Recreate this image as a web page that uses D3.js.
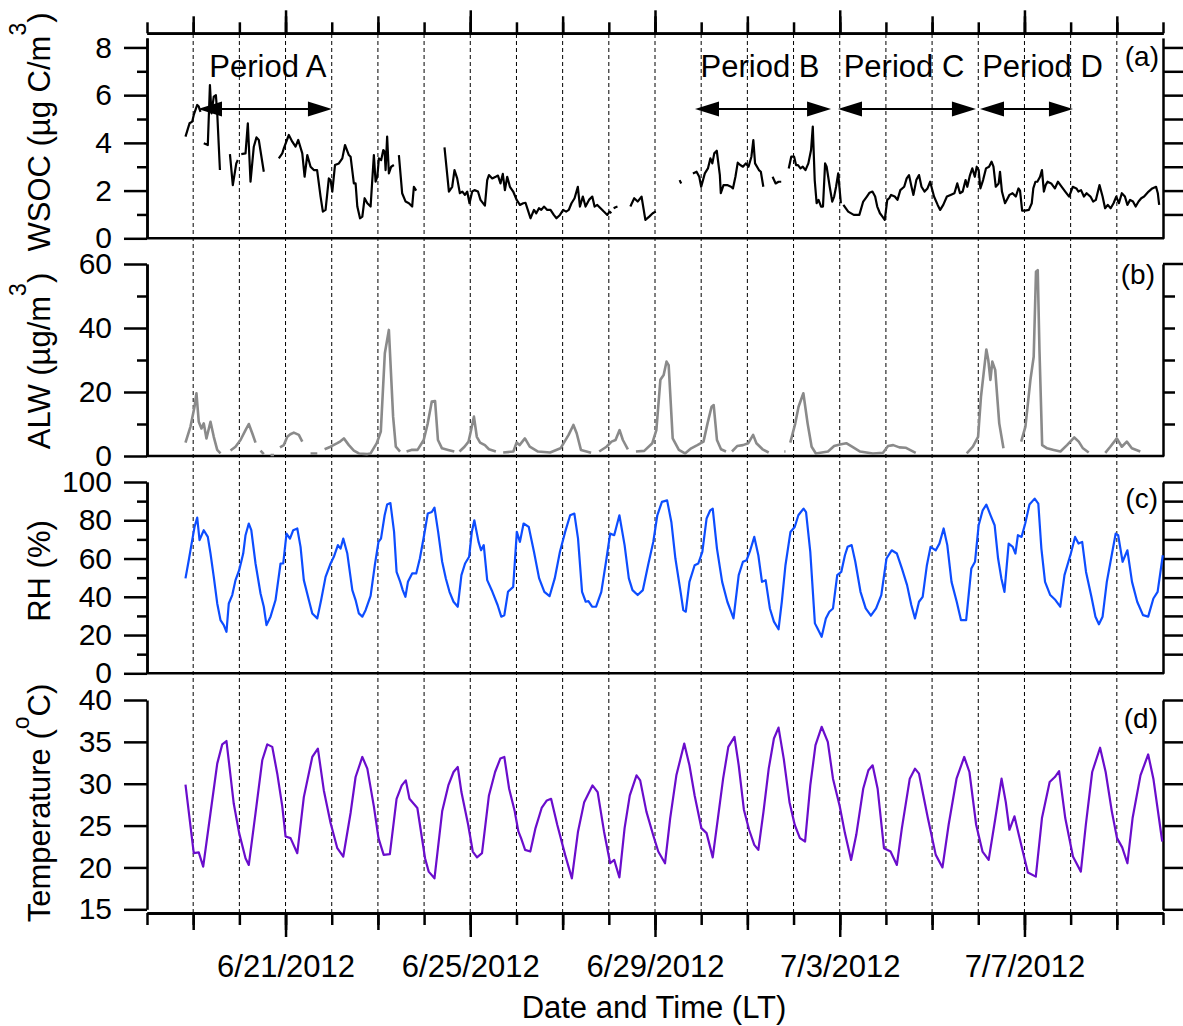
<!DOCTYPE html>
<html>
<head>
<meta charset="utf-8">
<script src="https://cdn.jsdelivr.net/npm/d3@7"></script>
<style>
  body { margin: 0; background: #fff; }
  text { font-family: "Liberation Sans", Arial, Helvetica, sans-serif; }
</style>
</head>
<body>
<svg id="chart" width="1183" height="1026"></svg>
<script>
// All times are hours after 6/18/2012 00:00 (local time). null = gap in the record.
const wsocHours = [20,22.1,23.5,24.3,26.1,26.9,27.8,null,29.5,31.6,32.7,33.5,34.7,35.8,36.5,37.9,null,
  43.1,44.6,46.4,47.2,null,49,51.2,52.4,53.8,55.5,56.9,58.1,60.7,null,
  68.5,70.3,71.1,73.7,75.5,77.2,78.6,80.7,81.9,83.3,85,86.7,88.4,90.2,91.4,92.8,94.5,95.4,96.3,97.7,99.7,101.5,102.9,104.9,105.8,107.5,108.4,109.3,110.7,111.9,113.1,114.5,116.2,
  117.9,118.8,119.7,120.5,121.7,122.8,123.5,124,124.8,125.7,126.9,128.3,null,
  130.9,132.6,134.4,136.1,137.8,138.7,139.9,null,
  154.6,156.9,158.6,159.8,161.2,162.6,163.9,165.2,166.4,167.6,169,170.2,172,173.3,175.6,176.8,177.7,179.4,181.2,182.4,183.7,184.9,186,187.2,188.6,190.3,192.1,193.8,195.5,196.7,197.9,199.3,201.1,202.3,203.7,204.9,206.3,208,209.7,211.4,212.8,214.6,216.3,217.8,219.2,220.6,222.2,223.2,223.9,225,226.5,227.9,229.7,231.4,232.6,234,235.7,237.4,239.2,240.4,241.3,null,
  242.5,243.5,244.5,null,
  251.2,253.2,255,257,259,261,262.8,264.4,null,
  276.8,277.6,null,
  283.7,285.6,287,288,289.9,291.5,292.8,293.8,294.8,296.1,297.7,298.2,299.6,301.5,303.5,304.5,305.8,307,308.3,309.7,311.2,312.6,314.1,315.1,316,318,319,320.3,null,
  325.1,326.7,328.2,329.6,null,
  333.5,334.8,336.3,337.3,338.3,339.6,340.8,342.2,343.7,345.1,346,347,348,349,350.3,351.3,352.4,353.2,354.8,356.1,357.1,358.1,359.2,360.6,null,
  361.9,364.4,367.3,370.2,372.2,374.1,375.5,377,378.4,379.5,380.9,382.2,383.4,384.7,385.7,386.7,388.6,390,391.5,393.5,394.8,396,397.3,398.3,399.8,401.2,402.5,404.1,405.6,407,409,410.9,412.2,413.8,415.7,417.6,419.6,421.1,422.5,423.9,425.4,426.3,427.7,428.9,430.2,431.2,432.2,433.1,434.5,436,437.6,438.9,439.9,441.1,442.6,443.3,444.3,445.9,447.3,448.2,449.8,451.5,452.9,453.7,454.8,456.3,458.3,459.8,460.6,461.7,462.7,464.1,465.1,466.1,467,468,469.9,471.8,473.4,474.7,477.2,479.2,481.1,483,484,485.4,486.9,488.3,490.3,491.7,493.1,495,496.6,497.9,499.3,500.8,502.3,503.7,505.1,506.6,508.2,509.5,510.9,512.4,513.8,515.3,516.7,518.2,520.5,522.4,524.4,525.3,526];
const wsocValues = [4.26,4.82,4.89,5.17,5.59,5.52,5.3,null,3.98,3.91,6.42,5.24,5.94,6.0,5.24,2.86,null,
  3.53,2.23,3.14,3.28,null,3.53,3.56,4.82,2.37,3.84,4.23,4.12,2.79,null,
  3.35,3.56,3.77,4.33,4.05,3.84,4.12,3.56,2.58,3.49,3.0,2.86,2.86,1.75,1.12,1.19,2.51,2.44,1.96,3.07,3.14,3.35,3.91,3.49,3.42,2.3,2.3,1.33,0.84,0.91,1.68,1.47,1.33,
  3.49,2.37,2.58,3.35,3.28,3.7,3.63,2.86,4.26,2.72,3.0,3.07,null,
  3.49,1.89,1.54,1.47,1.33,2.16,2.0,null,
  3.81,1.96,2.16,2.86,2.51,1.89,1.96,1.82,1.96,1.47,1.96,2.02,1.96,1.61,1.37,2.44,2.65,2.51,2.58,2.63,2.3,2.7,2.02,2.58,2.16,1.96,1.61,1.4,1.47,1.49,1.19,0.84,1.19,1.05,1.26,1.19,1.33,1.19,1.19,0.98,0.84,0.98,1.19,1.12,1.19,1.47,1.68,1.96,2.16,1.33,1.75,1.33,1.61,1.75,1.33,1.4,1.26,1.12,0.98,1.12,1.05,null,
  1.26,1.3,1.33,null,
  1.33,1.68,1.54,1.75,0.77,0.91,1.05,1.12,null,
  2.44,2.3,null,
  2.72,2.79,2.58,2.16,2.72,2.93,3.35,3.14,3.56,3.67,2.65,1.89,2.23,2.23,2.16,2.09,2.58,3.17,3.07,3.0,3.14,3.0,3.42,4.12,3.14,2.86,2.79,2.16,null,
  2.58,2.3,2.37,2.37,null,
  2.93,3.42,3.42,3.07,3.07,2.93,3.0,2.86,3.14,3.7,4.68,2.44,1.47,1.61,1.33,1.33,3.14,3.0,2.16,1.54,1.75,2.16,2.72,1.47,null,
  1.4,1.12,0.98,0.98,1.54,1.75,1.91,1.96,1.75,1.33,1.05,0.91,0.77,1.61,1.68,1.82,1.75,1.61,2.02,2.16,2.51,2.65,2.16,1.82,2.44,2.65,2.16,1.96,2.09,2.37,1.75,1.4,1.19,1.4,1.75,1.82,1.89,2.3,1.89,1.96,2.44,2.16,2.65,2.93,2.58,3.0,2.86,2.09,2.44,2.93,3.0,3.21,3.0,2.16,2.3,2.79,1.96,1.47,1.68,1.82,1.89,1.75,2.09,2.0,1.16,1.16,1.19,1.47,2.09,2.37,2.37,2.58,2.86,1.96,2.23,2.37,2.3,2.09,2.37,2.23,1.96,1.75,2.16,2.09,1.96,2.02,1.75,1.89,1.75,1.54,1.61,2.23,1.75,1.26,1.4,1.26,1.47,1.75,1.47,1.89,1.75,1.4,1.61,1.54,1.33,1.54,1.68,1.75,1.96,2.09,2.16,1.89,1.4];

const alwHours = [20,22.6,24.7,25.7,26.9,28.3,29.5,30.9,33,34.7,36.5,38.2,null,
  43.4,46,48.6,51.2,52.9,54.7,56.4,null,
  59,60.7,null,64.2,66,null,
  69.1,71.1,72.9,74.5,76.3,78.9,80.7,null,
  85,88.5,null,
  92.3,95.4,98.9,100.5,102.3,104.9,107.5,110.1,114.5,116.2,119.4,121.5,123.6,125.7,127.9,129.3,131.5,null,
  134.9,137.4,140.6,143.8,145.9,148,149.7,151.2,153.3,156.5,159.7,null,
  162.4,165,167.1,168.6,169.9,171.4,173.1,175.6,177.7,181.3,null,
  185.1,190.4,192.1,193.6,196.4,198.9,203.2,209.5,214.9,219.1,221.6,223.3,225.5,230.8,null,
  235,238.8,241.4,243.5,245.6,247.3,249.9,null,
  254.1,258.4,262.6,264.7,266.8,268.5,270,271.1,273.2,276.4,279.6,282.8,286,289.2,291.3,293.4,294.5,296.2,298.3,300.9,null,
  304,306.7,309.7,312.5,315,316.7,319.9,323.1,null,
  331.2,331.8,null,
  334.3,336.9,338.6,341.1,343.3,345.4,347.6,353.9,357.1,360.1,363.4,366.4,370.6,377.2,382.5,385.1,387.8,391,394.2,399.5,null,
  426,429.2,431.9,433.4,436.2,437.2,438.3,439.3,440.8,442.9,445.1,null,
  454.3,456.5,459.1,460.8,462,462.9,463.8,465.2,467.8,471.2,474.7,478.1,481.9,484.2,486.4,489.4,null,
  498,500.6,504,506.6,509.2,511.8,516.2];
const alwValues = [4.2,9.2,15.4,19.6,10.7,8.6,10.2,5.5,10.7,6,1.9,0.8,null,
  1.7,2.9,5,8.1,10,7.1,4.2,null,
  1.7,0.6,null,0.3,0.3,null,
  2.7,3.4,6,6.8,7.3,6.6,4.5,null,
  0.8,0.8,null,
  2.1,2.9,4,4.6,5.5,3.4,1.7,0.8,0.6,0.8,4,7.6,32.1,39.4,12.3,2.9,1.4,null,
  1.4,1.9,1.9,5,10.2,17,17.2,5,2.4,1.9,1.4,null,
  1.4,2.9,4.5,8.6,12.3,6,4.2,3.4,2.1,1.4,null,
  1.1,1.4,4.2,3.4,5.5,2.9,1.4,1.1,2.4,6.6,9.7,7.1,1.9,1,null,
  1.4,2.9,4.5,5,8.1,5,2.1,null,
  1.4,1.6,4,8.1,23.8,25.3,29.5,28.4,5.5,1.9,0.8,2.4,3.4,4.5,10.2,15.4,15.9,5,2.1,1.4,null,
  1.4,3.1,3.4,4,6.6,4,2.1,1.1,null,
  1.4,1.4,null,
  4.2,10.2,15.4,19.6,10.2,2.9,0.8,1.4,3.1,3.6,4,2.9,1.4,0.8,1,3.1,3.4,2.7,2.6,1,null,
  0.8,2.9,6,18.5,33.3,30,23.8,29.5,26.9,10.2,2.4,null,
  4.5,9.2,23.8,31,57.6,58.1,33.1,3.4,2.4,1.9,1.4,3.4,5.8,4.5,2.4,1.1,null,
  1,2.9,5.5,2.9,4.5,2.4,1.4];

const rhHours = [20,21.7,23.5,24.7,26.1,27.3,29.5,31.6,33,34.7,36.5,38.2,39.9,41.3,42.5,44.3,46,47.9,50,51.2,52.9,54.2,56.4,59,60.7,62.1,64.2,66.8,69.4,70.8,72.5,74.3,76,78.1,79.8,81.5,84.1,85.9,88.5,90.5,92.8,95.4,97.1,99.2,100.6,102,104.1,106.7,108.4,110.1,111.9,113.6,116.2,
  118.4,120.3,121.6,123.5,124.8,126.5,128.4,129.7,131.6,132.9,134.3,135.6,137.8,139.9,141.8,144,145.9,148,149.4,151.3,153.4,155.3,157.2,159.3,161.5,163.4,165.3,167.4,168.8,170.1,172.3,173.6,175,176.8,179.5,182.2,184.1,185.7,187.6,190.3,192.2,193.8,195.7,198.4,201.1,203.8,206.5,209.2,211.9,214.6,217.3,219.9,222.1,224,226.1,228,229.4,231.3,233.4,236.1,238.8,240.7,242.8,245.5,248.2,250.4,252.3,255,257.7,260.4,263.1,265.2,267.6,270.3,272.5,274.6,277.3,278.7,280,281.9,284.6,286.5,288.6,290.8,292.7,294,296.2,298.9,301.6,303.5,304.8,307.5,309.7,311.6,313.5,315.6,317.7,319.6,321.5,323.7,325.8,328.2,329.9,331.8,334.4,336.6,338.5,341.2,342.5,344.7,347.1,348.4,350.6,352.8,354.6,356.5,358.7,360.8,362.7,364.1,366.2,368.1,370.8,373.5,376.2,378.9,381.6,384.3,387,389.7,392.3,395,397.2,399.1,401.2,403.1,405.3,407.2,409.9,411.8,414,415.9,418.1,420.8,423,425.7,428.4,430.3,432.2,434.3,436.2,438.4,440.5,442.3,444,445.6,447.8,449.9,451.3,452.6,454.5,456.4,458.6,461.3,463.2,464.8,466.7,469.4,472.1,474.6,476.8,480.1,482.3,484.1,486,488,490.8,492.9,494.7,496.6,498.8,501.5,503.4,504.7,507,509.5,511.9,514.6,517.6,520.3,523,525.2,527.9];
const rhValues = [49.6,59.1,69.6,76.5,81.4,69.6,74.8,71.3,62.6,50.4,36.5,27.8,25.2,21.7,36.5,40.9,48.7,53.9,62.6,72.2,78.3,74.8,57.4,41.7,34.8,25.2,29.6,38.3,57.4,57.4,73,70.4,74.8,75.7,66.1,48.7,38.3,31.3,28.7,38.3,50.4,57.4,60.9,67,65.2,70.4,62.6,43.5,38.3,31.3,29.6,33,40.5,
  56.5,68.7,70.4,82.6,88.2,89,73.9,53,47.8,43.5,40,47.8,52.2,52.2,60,72.2,83.5,84.3,86.6,73.9,58.3,49.6,42.6,37.4,34.8,51.3,57.4,60.9,73.9,80,68.7,64.3,67,48.7,42.6,35.7,29.6,30.4,42.6,45.2,73.9,68.7,78.3,76.5,63.5,49.6,42.6,40.3,49.6,63.5,73.9,82.6,83.5,70.4,42.6,37.4,37.7,34.8,34.8,42.6,60,73,72.2,82.6,67,49.6,43.5,40.9,43.5,56.5,68.7,82.6,89.6,90.4,79.1,60,42.6,33,32.2,47.8,56.5,57.4,63.5,80.9,85.2,86.1,65.2,47.8,37.4,32.2,28.7,51.3,58.3,59.1,64.3,71.3,61.7,47.8,48.7,33.9,27,23,37.4,56.5,73.9,76.5,82.6,86.1,84.3,63.5,26.1,23.5,19.1,28.7,32.2,33.9,51.3,53,61.7,66.1,67,58.3,42.6,33.9,30.1,33.9,40.9,60,64.3,62.6,54.8,46.1,35.7,28.7,37.4,40,56.5,66.1,64.3,67.8,75.7,67,47.8,37.4,27.8,27.8,54.8,58.3,77.4,85.2,88.2,82.6,77.4,60,49.6,42.6,67.8,66.1,62.6,72.2,71.3,78.3,88.2,91.3,88.7,65.2,47.8,40.9,38.3,34.8,51.3,62.6,71.3,67.8,68.7,53,40,29.6,25.6,29.6,47.8,62.6,73,72.2,58.3,64.3,47.8,37.4,30.4,29.6,39.1,42.6,61.7];

const tempHours = [20,24.3,26.9,29.2,33,36.5,39.1,41.3,45.1,47.9,51.2,52.9,56.4,59.9,62.5,65.1,67.7,70.3,72,74.6,78.1,81.5,85.9,88.8,91.9,95.4,98.9,102,105.8,108.4,111.9,114.5,117.9,
  120.3,123,126.2,129.7,132.4,134.5,136.4,140.5,144.5,146.4,149.4,153.4,156.6,159.3,161.5,163.4,166.9,169.3,171.5,174.1,177.7,180.9,183.6,185.7,188.2,191.1,193,194.4,196.5,199.2,201.9,205.1,207.8,210,213.2,217.3,220.8,224,227.2,231.5,234.2,237.5,240.7,242.8,245.5,248.2,250.9,254.4,256.3,259.5,263,265.7,269.2,271.9,275.1,279.2,281.9,284.6,288.1,290.8,294,296.7,299.4,302.1,305.3,307.5,310.2,312.9,315.6,317.7,320.4,323.1,325.8,328.2,330.9,333.9,336.6,339.3,342,344.7,347.4,350.6,353.8,356.5,360,362.7,365.9,368.6,372.2,374.9,377.1,379.7,383,386.4,389.7,392.3,396.4,399.1,401.2,405.8,409.9,413.4,416.6,420.7,424.7,427.4,430.9,434.2,437.4,440.9,444.1,446.3,448.2,450.8,454.3,457.8,461.9,465.1,469.1,471.8,474,477.2,481.2,485.3,487.9,491.2,495.3,498.2,501.4,504.1,506.8,509.5,512.2,516.3,520.3,523,527.6];
const tempValues = [29.9,21.7,21.8,20.1,26.5,32.4,34.7,35.1,27.6,24.1,21.1,20.3,26.5,32.8,34.7,34.4,31.2,27.3,23.7,23.5,21.7,28.4,33.2,34.2,29.2,25.3,22.3,21.3,26.5,30.8,33.2,31.8,27.3,
  23.5,21.5,21.6,28.2,29.8,30.4,28.2,27.1,21.1,19.5,18.7,26.7,29.8,31.4,32.0,29.0,25.1,21.9,21.2,21.7,28.6,31.4,33.0,33.2,29.4,26.7,24.3,23.5,22.1,21.9,24.7,27.1,28.0,28.2,25.1,21.5,18.7,24.3,27.8,29.8,29.0,24.3,20.5,20.9,18.8,24.7,28.6,31.0,30.4,26.7,23.9,21.9,20.5,25.9,31.0,34.8,32.2,28.6,24.7,24.1,21.2,25.9,30.6,34.4,35.6,32.2,26.9,24.5,22.7,22.1,26.7,31.8,35.4,36.7,33.0,27.8,25.1,23.5,23.1,29.8,34.6,36.8,35.0,30.6,27.3,24.1,20.9,23.9,29.4,31.6,32.2,29.4,22.3,21.9,20.3,24.7,30.6,31.8,31.2,25.9,21.5,20.0,25.1,30.6,33.2,31.4,25.1,21.9,20.9,25.9,30.6,27.8,24.5,26.1,22.7,19.4,18.9,25.9,30.2,30.8,31.5,25.9,21.3,19.5,25.1,31.4,34.3,31.4,26.7,23.5,22.4,20.5,25.9,31.0,33.5,30.6,23.1];

// Sampling periods (hours after 6/18/2012 00:00)
const periodNames = ["Period A", "Period B", "Period C", "Period D"];
const periodStart = [26.5, 284.8, 359.1, 432.9];
const periodEnd = [96.1, 355.5, 430.8, 481.2];

// Axis ticks
const wsocTicks = [0, 2, 4, 6, 8], wsocMinor = [1, 3, 5, 7];
const alwTicks = [0, 20, 40, 60], alwMinor = [10, 30, 50];
const rhTicks = [0, 20, 40, 60, 80, 100], rhMinor = [10, 30, 50, 70, 90];
const tempTicks = [15, 20, 25, 30, 35, 40];

const t0 = new Date(2012, 5, 18);
const t1 = new Date(2012, 6, 10);
const toDate = h => new Date(+t0 + h * 3600e3);

const svg = d3.select("#chart");
const left = 147, right = 1163;
const axisW = 2.5;

const x = d3.scaleTime().domain([t0, t1]).range([left, right]);

const panels = [
  { key: "a", hours: wsocHours, values: wsocValues, y: d3.scaleLinear().domain([0, 8.4]).range([238.3, 37.9]),
    ticks: wsocTicks, minor: wsocMinor, right: [1, 2, 3, 4, 5, 6, 7, 8], rightLen: 20, color: "#000000", width: 2.2 },
  { key: "b", hours: alwHours, values: alwValues, y: d3.scaleLinear().domain([0, 60]).range([456, 264]),
    ticks: alwTicks, minor: alwMinor, right: [10, 20, 30, 40, 50], rightLen: 12, color: "#8a8a8a", width: 2.6 },
  { key: "c", hours: rhHours, values: rhValues, y: d3.scaleLinear().domain([0, 100]).range([673.3, 482]),
    ticks: rhTicks, minor: rhMinor, right: [10, 20, 30, 40, 50, 60, 70, 80, 90, 100], rightLen: 20, color: "#0d4dff", width: 2.2 },
  { key: "d", hours: tempHours, values: tempValues, y: d3.scaleLinear().domain([15, 40]).range([909.3, 700]),
    ticks: tempTicks, minor: [], right: [15, 20, 25, 30, 35, 40], rightLen: 20, color: "#6a0dcc", width: 2.2 }
];

// daily dashed guide lines
const days = d3.timeDay.range(d3.timeDay.offset(t0, 1), t1);
svg.append("g").selectAll("line").data(days).join("line")
  .attr("x1", d => x(d)).attr("x2", d => x(d))
  .attr("y1", 34).attr("y2", 912)
  .attr("stroke", "#000").attr("stroke-width", 1).attr("stroke-dasharray", "4,3");

function styleAxis(g, fs) {
  g.select(".domain").attr("stroke-width", axisW);
  g.selectAll(".tick line").attr("stroke-width", axisW);
  g.selectAll("text").attr("font-size", fs).attr("fill", "#000")
    .attr("font-family", '"Liberation Sans", Arial, sans-serif');
}

panels.forEach(p => {
  // left axis with major and minor ticks
  const gl = svg.append("g").attr("transform", `translate(${left},0)`)
    .call(d3.axisLeft(p.y).tickValues(p.ticks).tickSize(23).tickSizeOuter(0).tickPadding(12));
  styleAxis(gl, 30);
  if (p.minor.length) {
    const gm = svg.append("g").attr("transform", `translate(${left},0)`)
      .call(d3.axisLeft(p.y).tickValues(p.minor).tickSize(10).tickSizeOuter(0).tickFormat(""));
    styleAxis(gm, 30);
  }
  // right mirror axis
  const gr = svg.append("g").attr("transform", `translate(${right},0)`)
    .call(d3.axisRight(p.y).tickValues(p.right).tickSize(p.rightLen).tickSizeOuter(0).tickFormat(""));
  styleAxis(gr, 30);

  // bottom frame line of panels a-c
  if (p.key !== "d") {
    svg.append("line").attr("x1", left - 1).attr("x2", right + 1)
      .attr("y1", p.y.range()[0]).attr("y2", p.y.range()[0])
      .attr("stroke", "#000").attr("stroke-width", axisW);
  }

  const line = d3.line()
    .defined((d, i) => p.hours[i] !== null && p.values[i] !== null)
    .x((d, i) => x(toDate(p.hours[i])))
    .y((d, i) => p.y(p.values[i]));
  svg.append("path").datum(p.hours).attr("d", line)
    .attr("fill", "none").attr("stroke", p.color).attr("stroke-width", p.width)
    .attr("stroke-linejoin", "round");
});

// top of panel (b) right axis extends to the edge
svg.append("line").attr("x1", right).attr("x2", 1183)
  .attr("y1", panels[1].y(60)).attr("y2", panels[1].y(60))
  .attr("stroke", "#000").attr("stroke-width", axisW);

// time axes: daily short ticks, 2-day medium ticks, 4-day long ticks
const allDays = d3.timeDay.range(t0, d3.timeDay.offset(t1, 1));
const twoDays = allDays.filter((d, i) => i % 2 === 1);
const fourDays = allDays.filter((d, i) => i % 4 === 3);

[[allDays, 11], [twoDays, 17], [fourDays, 23]].forEach(([vals, len]) => {
  const g = svg.append("g").attr("transform", "translate(0,33.3)")
    .call(d3.axisTop(x).tickValues(vals).tickSize(len).tickSizeOuter(0).tickFormat(""));
  styleAxis(g, 30);
});
[[allDays, 12, ""], [twoDays, 17, ""], [fourDays, 24, d3.timeFormat("%-m/%-d/%Y")]].forEach(([vals, len, fmt]) => {
  const g = svg.append("g").attr("transform", "translate(0,913)")
    .call(d3.axisBottom(x).tickValues(vals).tickSize(len).tickSizeOuter(0).tickPadding(18).tickFormat(fmt || ""));
  styleAxis(g, 31);
});

svg.append("text").attr("x", 654).attr("y", 1018).attr("text-anchor", "middle")
  .style("font-size", "31px").text("Date and Time (LT)");

// y axis titles with raised superscripts
function yTitle(base, sup, tail, cy, supDy) {
  const t = svg.append("text").attr("transform", `translate(50,${cy}) rotate(-90)`)
    .attr("text-anchor", "middle").style("font-size", "31px");
  t.append("tspan").text(base);
  if (sup) {
    t.append("tspan").attr("dy", -supDy).style("font-size", "23px").text(sup);
    t.append("tspan").attr("dy", supDy).text(tail);
  }
}
yTitle("WSOC (\u00b5g C/m", "3", ")", 132, 24);
yTitle("ALW (\u00b5g/m", "3", ")", 361, 24);
yTitle("RH (%)", null, null, 571, 0);
yTitle("Temperature (", "o", "C)", 803, 21);

// panel letters
[["(a)", 1159, 66], ["(b)", 1155, 284], ["(c)", 1158, 508], ["(d)", 1158, 728]].forEach(([s, px, py]) => {
  svg.append("text").attr("x", px).attr("y", py).attr("text-anchor", "end")
    .style("font-size", "28px").text(s);
});

// period arrows
const arrowY = 109, headL = 24, headH = 7.5;
const labelDx = [3, -3, -3, 16];
periodNames.forEach((name, i) => {
  const xa = x(toDate(periodStart[i])), xb = x(toDate(periodEnd[i]));
  svg.append("line").attr("x1", xa + 5).attr("x2", xb - 5).attr("y1", arrowY).attr("y2", arrowY)
    .attr("stroke", "#000").attr("stroke-width", 2);
  svg.append("path").attr("d", `M${xa},${arrowY}L${xa + headL},${arrowY - headH}L${xa + headL},${arrowY + headH}Z`);
  svg.append("path").attr("d", `M${xb},${arrowY}L${xb - headL},${arrowY - headH}L${xb - headL},${arrowY + headH}Z`);
  svg.append("text").attr("x", (xa + xb) / 2 + labelDx[i]).attr("y", 77).attr("text-anchor", "middle")
    .style("font-size", "31px").text(name);
});
</script>
</body>
</html>
